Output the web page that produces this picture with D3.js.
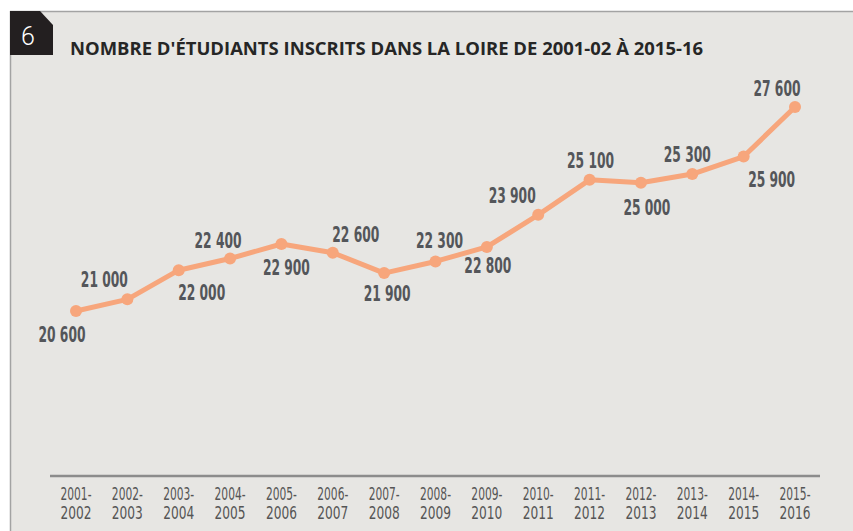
<!DOCTYPE html>
<html>
<head>
<meta charset="utf-8">
<script src="https://d3js.org/d3.v7.min.js"></script>
<style>
  body { margin: 0; background: #fff; }
  svg text { font-family: "Open Sans", "DejaVu Sans", sans-serif; }
</style>
</head>
<body>
<div id="chart"></div>
<script>
// data
const years = ["2001-2002", "2002-2003", "2003-2004", "2004-2005", "2005-2006",
  "2006-2007", "2007-2008", "2008-2009", "2009-2010", "2010-2011",
  "2011-2012", "2012-2013", "2013-2014", "2014-2015", "2015-2016"];
const students = [20600, 21000, 22000, 22400, 22900, 22600, 21900, 22300,
  22800, 23900, 25100, 25000, 25300, 25900, 27600];
const title = "NOMBRE D'ÉTUDIANTS INSCRITS DANS LA LOIRE DE 2001-02 À 2015-16";

// label placement (offset from the point)
const labelDx = [-14, -23, 23, -12, 5, 23, 3, 4, 1, -26, 1, 6, -5, 28, -18];
const labelDy = [31, -12, 30, -11, 31, -11, 28, -13, 26, -12, -12, 32, -12, 30, -11];

const W = 853, H = 531;
const svg = d3.select("#chart").append("svg")
  .attr("width", W).attr("height", H);

// panel
svg.append("rect").attr("x", 10).attr("y", 11).attr("width", W).attr("height", H)
  .attr("fill", "#e7e6e3");
svg.append("line").attr("x1", 10).attr("x2", W).attr("y1", 11.5).attr("y2", 11.5)
  .attr("stroke", "#a3a3a3").attr("stroke-width", 1.5);
svg.append("line").attr("x1", 10.5).attr("x2", 10.5).attr("y1", 11).attr("y2", H)
  .attr("stroke", "#a3a3a3").attr("stroke-width", 1.5);

// number badge
svg.append("path").attr("d", "M10,11 L40,11 L53,25 L53,55 L10,55 Z").attr("fill", "#231f20");
svg.append("text").attr("x", 28).attr("y", 45).attr("text-anchor", "middle")
  .attr("fill", "#fff").style("font-family", "Roboto, sans-serif")
  .style("font-weight", 300).style("font-size", "25px").text("6");

svg.append("text").attr("x", 70).attr("y", 55)
  .attr("fill", "#262626").style("font-weight", 700).style("font-size", "17.5px")
  .attr("textLength", 633).attr("lengthAdjust", "spacingAndGlyphs")
  .text(title);

// scales
const x = d3.scalePoint().domain(years).range([76, 795]);
const y = d3.scaleLinear().domain([20600, 27600]).range([311, 107]);

// axis baseline
svg.append("line").attr("x1", 50).attr("x2", 820).attr("y1", 476).attr("y2", 476)
  .attr("stroke", "#8c8c8c").attr("stroke-width", 2.5);

const ticks = svg.append("g").selectAll("text").data(years).join("text")
  .attr("text-anchor", "middle")
  .attr("fill", "#555")
  .style("font-family", "'Liberation Sans Narrow', 'DejaVu Sans Condensed', sans-serif")
  .style("font-size", "17.5px");
ticks.append("tspan").attr("x", d => x(d)).attr("y", 500)
  .attr("textLength", 31).attr("lengthAdjust", "spacingAndGlyphs")
  .text(d => d.slice(0, 4) + "-");
ticks.append("tspan").attr("x", d => x(d)).attr("y", 519)
  .attr("textLength", 31).attr("lengthAdjust", "spacingAndGlyphs")
  .text(d => d.slice(5));

// line
const pts = years.map((d, i) => ({ year: d, v: students[i], i }));
svg.append("path").datum(pts)
  .attr("fill", "none").attr("stroke", "#f7a67c").attr("stroke-width", 5)
  .attr("stroke-linejoin", "round")
  .attr("d", d3.line().x(d => x(d.year)).y(d => y(d.v)));

svg.append("g").selectAll("circle").data(pts).join("circle")
  .attr("cx", d => x(d.year)).attr("cy", d => y(d.v)).attr("r", 6)
  .attr("fill", "#f7a67c");

// value labels
const fmt = v => d3.format(",")(v).replace(",", " ");
svg.append("g").selectAll("text").data(pts).join("text")
  .attr("x", d => x(d.year) + labelDx[d.i])
  .attr("y", d => y(d.v) + labelDy[d.i])
  .attr("text-anchor", "middle")
  .attr("fill", "#54565a")
  .style("font-family", "'Liberation Sans Narrow', 'DejaVu Sans Condensed', sans-serif")
  .style("font-weight", 700).style("font-size", "21px")
  .attr("textLength", 47).attr("lengthAdjust", "spacingAndGlyphs")
  .text(d => fmt(d.v));
</script>
</body>
</html>
